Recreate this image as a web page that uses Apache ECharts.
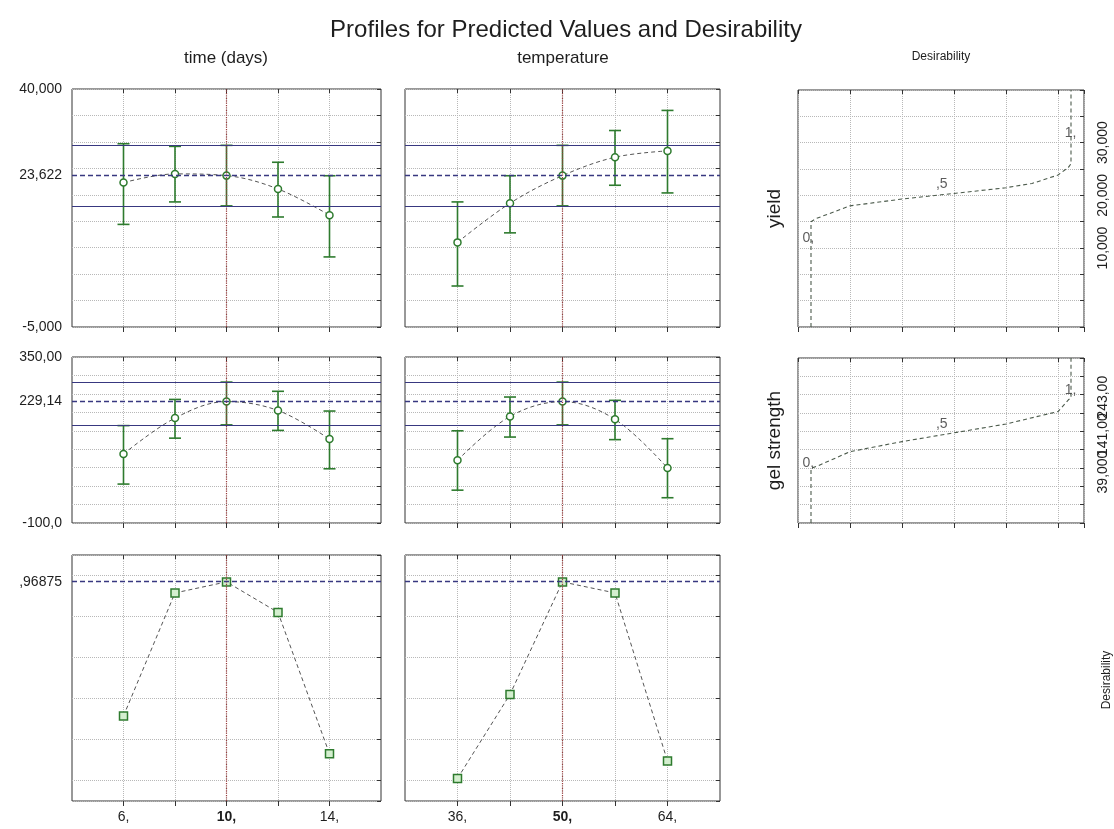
<!DOCTYPE html>
<html><head><meta charset="utf-8">
<script src="https://cdn.jsdelivr.net/npm/echarts@6/dist/echarts.min.js"></script>
<style>html,body{margin:0;padding:0;background:#fff}#c{width:1114px;height:829px}</style>
</head><body><div id="c"></div>
<script>
// ---------- data ----------
const timeDays = [6, 8, 10, 12, 14];
const temperature = [36, 43, 50, 57, 64];
const timeLabelTicks = [6, 10, 14];
const tempLabelTicks = [36, 50, 64];
const currentTime = 10;
const currentTemp = 50;

const yieldTime = [22.3, 23.95, 23.622, 21.1, 16.15];
const yieldTimeLow = [14.4, 18.65, 17.9, 15.8, 8.25];
const yieldTimeHigh = [29.65, 29.15, 29.35, 26.15, 23.6];
const yieldTemp = [11.0, 18.4, 23.622, 27.1, 28.3];
const yieldTempLow = [2.75, 12.8, 17.9, 21.8, 20.35];
const yieldTempHigh = [18.65, 23.6, 29.35, 32.15, 35.95];
const yieldCurrent = 23.622;
const yieldCI = [17.9, 29.35];
const yieldRange = [-5, 40, 5];

const gelTime = [87, 184.5, 229.14, 205, 127.5];
const gelTimeLow = [5.5, 130, 166, 151, 47];
const gelTimeHigh = [164, 235, 282, 257, 203.5];
const gelTemp = [70, 189, 229.14, 181, 49];
const gelTempLow = [-11, 133, 166, 126, -31.5];
const gelTempHigh = [150, 241.5, 282, 232.5, 128.5];
const gelCurrent = 229.14;
const gelCI = [166, 282];
const gelRange = [-100, 350, 50];

const desirTime = [0.315, 0.915, 0.96875, 0.82, 0.13];
const desirTemp = [0.01, 0.42, 0.96875, 0.915, 0.095];
const desirCurrent = 0.96875;
const desirRange = [-0.1, 1.1];

// desirability functions: desirability (x) vs response (y)
const yieldDesirD = [0, 0, 0.02, 0.15, 0.35, 0.5, 0.55, 0.75, 0.85, 0.95, 0.99, 1, 1];
const yieldDesirY = [-5, 15, 15.6, 18.0, 19.3, 20.1, 20.35, 21.45, 22.25, 23.85, 25.3, 26, 40];
const gelDesirD = [0, 0, 0.03, 0.15, 0.35, 0.5, 0.55, 0.75, 0.95, 0.99, 1, 1];
const gelDesirY = [-100, 49, 57, 94.5, 122, 140, 146, 170, 204, 236, 241, 350];
const yieldSpec = [10, 20, 30];
const gelSpec = [39, 141, 243];
const desirMarks = ['0,', ',5', '1,'];
const desirMarkD = [-0.01, 0.503, 0.998];
const yieldMarkY = [11.8, 22.1, 31.8];
const gelMarkY = [62, 170, 263];

// ---------- helpers ----------
const FONT = 'Arial, "Liberation Sans", sans-serif';
const GREEN = '#2e7b2e';
const NAVY = '#383880';
const GRIDC = '#b8b8b8';
const CURX = '#9a3c3c';
const TXT = '#1e1e1e';

function statFmt(v) {
  const neg = v < 0, a = Math.abs(v);
  const ip0 = Math.floor(a + 1e-9);
  const intLen = ip0 === 0 ? 0 : String(ip0).length;
  const dec = Math.max(0, 6 - (intLen + (neg ? 1 : 0) + 1));
  let [ip, dp] = a.toFixed(dec).split('.');
  if (ip === '0') ip = '';
  return (neg ? '-' : '') + ip + ',' + (dp || '');
}
const tempStep = temperature[1] - temperature[0];
const timeStep = timeDays[1] - timeDays[0];
const tcode = t => (t - temperature[0]) / tempStep + 1;
const tempCoded = temperature.map(tcode);
const curTempCode = tcode(currentTemp);
const zip = (a, b) => a.map((v, i) => [v, b[i]]);

const gridBox = [
  {left: 72, top: 89, width: 309, height: 238},
  {left: 405, top: 89, width: 315, height: 238},
  {left: 798, top: 90, width: 286, height: 237},
  {left: 72, top: 357, width: 309, height: 166},
  {left: 405, top: 357, width: 315, height: 166},
  {left: 798, top: 358, width: 286, height: 165},
  {left: 72, top: 555, width: 309, height: 246},
  {left: 405, top: 555, width: 315, height: 246}
];
const grids = gridBox.map(g => Object.assign({}, g, {show: true, borderColor: '#333', borderWidth: 1, outerBoundsMode: 'none', containLabel: false}));
const kinds = ['time', 'temp', 'desir', 'time', 'temp', 'desir', 'time', 'temp'];

const splitL = {show: true, lineStyle: {type: 'dotted', color: GRIDC, width: 1}};
const labelBase = {fontSize: 14, color: TXT, fontFamily: FONT};

function xRange(kind) {
  if (kind === 'time') return {min: timeDays[0] - timeStep, max: timeDays[timeDays.length - 1] + timeStep, interval: timeStep};
  if (kind === 'temp') return {min: tcode(temperature[0]) - 1, max: tcode(temperature[temperature.length - 1]) + 1, interval: 1};
  return {min: -0.05, max: 1.05, interval: 0.2};
}
function xTickVals(kind) {
  return kind === 'time' ? timeDays : (kind === 'temp' ? tempCoded : undefined);
}
function xAx(gridIndex, kind, showLabels) {
  const ax = Object.assign({type: 'value', gridIndex, axisLine: {show: false, onZero: false}, splitLine: splitL,
    axisTick: {show: true, inside: false, length: 5, lineStyle: {color: '#333'}}, axisLabel: {show: false}}, xRange(kind));
  const tv = xTickVals(kind);
  if (tv) ax.axisTick.customValues = tv;
  if (showLabels && kind === 'time') ax.axisLabel = Object.assign({show: true, margin: 9, customValues: timeLabelTicks,
      formatter: v => v === currentTime ? '{b|' + v + ',}' : v + ',',
      rich: {b: Object.assign({fontWeight: 'bold'}, labelBase)}}, labelBase);
  if (showLabels && kind === 'temp') ax.axisLabel = Object.assign({show: true, margin: 9, customValues: tempLabelTicks.map(tcode),
      formatter: v => { const t = Math.round(temperature[0] + (v - 1) * tempStep); return t === currentTemp ? '{b|' + t + ',}' : t + ','; },
      rich: {b: Object.assign({fontWeight: 'bold'}, labelBase)}}, labelBase);
  return ax;
}
function xTop(gridIndex, kind) {
  const ax = Object.assign({type: 'value', gridIndex, position: 'top', axisLine: {show: false, onZero: false},
    splitLine: {show: false}, axisLabel: {show: false},
    axisTick: {show: true, inside: true, length: 4, lineStyle: {color: '#333'}}}, xRange(kind));
  const tv = xTickVals(kind);
  if (tv) ax.axisTick.customValues = tv;
  return ax;
}
function yAx(gridIndex, range, labels, name) {
  const ax = {type: 'value', gridIndex, min: range[0], max: range[1], axisLine: {show: false, onZero: false},
    axisTick: {show: false}, splitLine: splitL, axisLabel: {show: false}};
  if (range[2] != null) ax.interval = range[2]; else ax.splitNumber = 6;
  if (labels) ax.axisLabel = Object.assign({show: true, margin: 10, customValues: labels, formatter: statFmt}, labelBase);
  if (name) Object.assign(ax, {name, nameLocation: 'middle', nameGap: 14,
    nameTextStyle: {fontSize: 19, color: TXT, fontFamily: FONT}});
  return ax;
}
function yRight(gridIndex, range, labels, noTicks) {
  const ax = {type: 'value', gridIndex, position: 'right', min: range[0], max: range[1],
    axisLine: {show: false, onZero: false}, splitLine: {show: false},
    axisTick: {show: !noTicks, inside: true, length: 4, lineStyle: {color: '#333'}},
    axisLabel: {show: false}};
  if (range[2] != null) ax.interval = range[2]; else ax.splitNumber = 6;
  if (labels) ax.axisLabel = Object.assign({show: true, rotate: 90, margin: 12, hideOverlap: false,
    customValues: labels, formatter: statFmt}, labelBase);
  return ax;
}

function errBars(idx, xs, lows, highs) {
  return {type: 'custom', xAxisIndex: idx, yAxisIndex: idx, z: 2, silent: true,
    data: xs.map((x, i) => [x, lows[i], highs[i]]),
    renderItem: (params, api) => {
      const x = api.value(0);
      const lo = api.coord([x, api.value(1)]);
      const hi = api.coord([x, api.value(2)]);
      const hw = 6, st = {stroke: GREEN, lineWidth: 1.6};
      return {type: 'group', children: [
        {type: 'line', shape: {x1: lo[0], y1: lo[1], x2: hi[0], y2: hi[1]}, style: st},
        {type: 'line', shape: {x1: lo[0] - hw, y1: lo[1], x2: lo[0] + hw, y2: lo[1]}, style: st},
        {type: 'line', shape: {x1: hi[0] - hw, y1: hi[1], x2: hi[0] + hw, y2: hi[1]}, style: st}
      ]};
    }};
}
function refLines(current, ci, curX) {
  const d = [{xAxis: curX, lineStyle: {type: 'dotted', color: CURX, width: 1.2}},
             {yAxis: current, lineStyle: {type: [5, 3], color: NAVY, width: 1.3}}];
  if (ci) ci.forEach(v => d.push({yAxis: v, lineStyle: {type: 'solid', color: NAVY, width: 1.2}}));
  return {symbol: 'none', silent: true, label: {show: false}, data: d};
}
function profLine(idx, xs, ys, current, ci, curX, square) {
  return {type: 'line', xAxisIndex: idx, yAxisIndex: idx, z: 4, data: zip(xs, ys),
    smooth: square ? false : 0.35,
    symbol: square ? 'rect' : 'circle', symbolSize: square ? 8 : 7,
    itemStyle: {color: square ? '#d4efcf' : '#ffffff', borderColor: GREEN, borderWidth: 1.5},
    lineStyle: {color: '#555', width: 1, type: [4, 3]},
    markLine: refLines(current, ci, curX)};
}
function desirCurve(idx, ds, ys) {
  return {type: 'line', xAxisIndex: idx, yAxisIndex: idx, z: 4, data: zip(ds, ys), symbol: 'none',
    lineStyle: {color: '#4b5a4b', width: 1.1, type: [4, 3]}};
}
function desirLabels(idx, ys) {
  return {type: 'scatter', xAxisIndex: idx, yAxisIndex: idx, z: 5, symbolSize: 1, silent: true,
    itemStyle: {color: 'rgba(0,0,0,0)'},
    data: desirMarkD.map((d, i) => ({value: [d, ys[i]], name: desirMarks[i]})),
    label: {show: true, position: 'inside', formatter: p => p.name, fontSize: 14, color: '#333', fontFamily: FONT}};
}

const txt = (x, y, text, size, extra) => Object.assign({type: 'text', x, y,
  style: {text, fontSize: size, fill: TXT, fontFamily: FONT, align: 'center', verticalAlign: 'middle'}}, extra || {});

const xAxes = kinds.map((k, i) => xAx(i, k, i >= 6)).concat(kinds.map((k, i) => xTop(i, k)));
const yAxes = [
  yAx(0, yieldRange, [yieldRange[0], yieldCurrent, yieldRange[1]]),
  yAx(1, yieldRange),
  yAx(2, yieldRange, null, 'yield'),
  yAx(3, gelRange, [gelRange[0], gelCurrent, gelRange[1]]),
  yAx(4, gelRange),
  yAx(5, gelRange, null, 'gel strength'),
  yAx(6, desirRange, [desirCurrent]),
  yAx(7, desirRange),
  yRight(0, yieldRange), yRight(1, yieldRange), yRight(2, yieldRange),
  yRight(3, gelRange), yRight(4, gelRange), yRight(5, gelRange),
  yRight(6, desirRange), yRight(7, desirRange)
];
// one right-side axis per spec label so overlapping labels are all kept
yieldSpec.forEach(v => yAxes.push(yRight(2, yieldRange, [v], true)));
gelSpec.forEach(v => yAxes.push(yRight(5, gelRange, [v], true)));

const option = {
  animation: false,
  backgroundColor: '#ffffff',
  textStyle: {fontFamily: FONT},
  graphic: [
    txt(566, 30, 'Profiles for Predicted Values and Desirability', 24),
    txt(226, 58, 'time (days)', 17),
    txt(563, 58, 'temperature', 17),
    txt(941, 57, 'Desirability', 12),
    txt(1107, 680, 'Desirability', 12, {rotation: Math.PI / 2})
  ],
  grid: grids,
  xAxis: xAxes,
  yAxis: yAxes,
  series: [
    errBars(0, timeDays, yieldTimeLow, yieldTimeHigh),
    profLine(0, timeDays, yieldTime, yieldCurrent, yieldCI, currentTime, false),
    errBars(1, tempCoded, yieldTempLow, yieldTempHigh),
    profLine(1, tempCoded, yieldTemp, yieldCurrent, yieldCI, curTempCode, false),
    desirCurve(2, yieldDesirD, yieldDesirY),
    desirLabels(2, yieldMarkY),
    errBars(3, timeDays, gelTimeLow, gelTimeHigh),
    profLine(3, timeDays, gelTime, gelCurrent, gelCI, currentTime, false),
    errBars(4, tempCoded, gelTempLow, gelTempHigh),
    profLine(4, tempCoded, gelTemp, gelCurrent, gelCI, curTempCode, false),
    desirCurve(5, gelDesirD, gelDesirY),
    desirLabels(5, gelMarkY),
    profLine(6, timeDays, desirTime, desirCurrent, null, currentTime, true),
    profLine(7, tempCoded, desirTemp, desirCurrent, null, curTempCode, true)
  ]
};
const chart = echarts.init(document.getElementById('c'), null, {renderer: 'canvas'});
chart.setOption(option);
</script>
</body></html>
